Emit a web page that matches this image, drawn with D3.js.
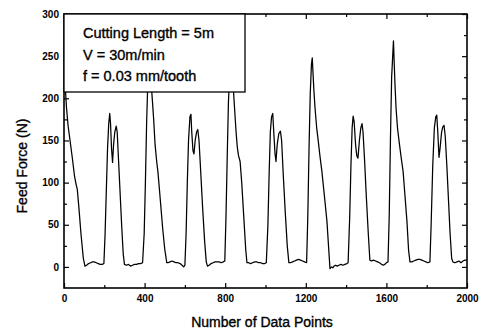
<!DOCTYPE html>
<html>
<head>
<meta charset="utf-8">
<script src="https://cdn.jsdelivr.net/npm/d3@7/dist/d3.min.js"></script>
<style>
  body { margin: 0; background: #fff; }
  svg text { font-family: "Liberation Sans", Arial, sans-serif; fill: #000; }
  .heavy { stroke: #000; stroke-width: 0.35px; }
</style>
</head>
<body>
<svg id="chart" width="483" height="332"></svg>
<script>
// feed force trace (data point index, force in N)
var samplesA = [
  [0,238],[6,215],[12,190],[20,168],[30,150],[42,128],[52,108],[60,98],[66,92],[74,70],[84,40],[96,10],[104,1],
  [112,2],[122,4],[132,5],[142,6],[150,6],[160,5],[170,4],[180,3],[190,3],[198,4],
  [204,40],[210,90],[216,140],[222,170],[227,182],[231,170],[236,140],[241,124],[246,145],[252,160],[259,167],
  [264,160],[270,130],[278,90],[286,50],[294,15],[300,3],[310,2],[320,3],[330,1],[340,2],[350,3],[360,3],
  [370,4],[380,4],[390,5],
  [398,40],[404,100],[410,170],[416,220],[425,245],[435,210],[445,175],[452,145],[460,125],[466,113],[476,85],
  [490,45],[500,21],[510,5],
  [516,5],[526,6],[536,7],[546,6],[556,5],[566,5],[576,4],[586,2],[594,0],[600,2]
];
var samplesB = [
  [606,40],[612,100],[618,150],[625,178],[630,181],[634,160],[640,138],[645,134],[651,150],[658,160],[664,163],
  [670,150],[678,115],[688,70],[698,30],[706,6],[712,1],[720,2],[730,4],[740,5],[750,6],[760,6],[770,6],
  [780,5],[790,6],[798,7],
  [804,60],[810,130],[816,195],[822,228],[830,238],[838,220],[846,190],[854,160],[860,142],[866,132],[874,125],
  [882,100],[892,60],[902,20],[908,5],
  [916,5],[926,4],[936,5],[946,6],[956,6],[966,5],[976,5],[986,4],[996,4],[1004,5],
  [1012,50],[1018,110],[1024,160],[1030,178],[1036,182],[1041,160],[1047,135],[1052,125],[1058,145],[1066,158],
  [1074,161],[1080,150],[1088,110],[1098,65],[1108,25],[1116,5],[1124,5],[1134,6],[1144,7],[1154,8],[1164,9],
  [1174,8],[1184,7],[1194,6],[1204,5]
];
var samplesC = [
  [1210,60],[1216,140],[1222,205],[1228,240],[1232,248],[1240,210],[1246,188],[1254,165],[1262,149],[1270,132],
  [1280,113],[1292,85],[1305,54],[1314,20],[1320,-2],[1328,0],[1334,-1],[1340,1],[1348,2],[1356,1],[1364,2],
  [1374,3],[1384,2],[1394,3],[1404,4],[1410,5],
  [1418,60],[1424,120],[1430,165],[1435,179],[1440,172],[1447,145],[1453,132],[1459,129],[1466,150],[1473,165],
  [1479,170],[1484,160],[1492,125],[1500,85],[1510,40],[1518,8],[1526,7],[1536,8],[1546,7],[1556,6],[1566,5],
  [1576,3],[1584,2],[1592,3],[1600,5],[1608,6]
];
var samplesD = [
  [1614,60],[1620,150],[1626,225],[1635,268],[1642,220],[1648,188],[1655,165],[1663,149],[1672,132],[1683,113],
  [1692,85],[1702,54],[1710,20],[1717,6],
  [1726,6],[1736,7],[1746,8],[1756,9],[1766,9],[1776,8],[1786,7],[1796,6],[1806,5],[1816,6],
  [1822,50],[1830,120],[1838,165],[1845,178],[1850,180],[1855,160],[1861,130],[1866,140],[1874,160],[1880,166],
  [1886,168],[1892,155],[1900,120],[1908,80],[1916,40],[1924,10],[1930,6],[1940,5],[1950,6],[1960,7],[1970,5],
  [1980,7],[1990,8],[2000,8]
];

var xMajor = [0, 400, 800, 1200, 1600, 2000];
var xMinor = [200, 600, 1000, 1400, 1800];
var yMajor = [0, 50, 100, 150, 200, 250, 300];
var yMinor = [25, 75, 125, 175, 225, 275];

var legendLines = ['Cutting Length = 5m', 'V = 30m/min', 'f = 0.03 mm/tooth'];
var xTitle = 'Number of Data Points';
var yTitle = 'Feed Force (N)';

var trace = samplesA.concat(samplesB, samplesC, samplesD);

var margin = { top: 14, right: 16, bottom: 44, left: 64 };
var width = 483 - margin.left - margin.right;
var height = 332 - margin.top - margin.bottom;

var svg = d3.select('#chart');
var g = svg.append('g').attr('transform', 'translate(' + margin.left + ',' + margin.top + ')');

var x = d3.scaleLinear().domain([0, 2000]).range([0, width]);
var y = d3.scaleLinear().domain([-25, 300]).range([height, 0]);

// clip so the trace stays inside the frame
g.append('clipPath').attr('id', 'clip')
  .append('rect').attr('width', width).attr('height', height);

var line = d3.line().x(d => x(d[0])).y(d => y(d[1]));

g.append('path')
  .datum(trace)
  .attr('clip-path', 'url(#clip)')
  .attr('fill', 'none')
  .attr('stroke', '#000')
  .attr('stroke-width', 1.25)
  .attr('stroke-linejoin', 'round')
  .attr('d', line);

function styleAxis(sel) {
  sel.select('.domain').remove();
  sel.selectAll('line').attr('stroke', '#000').attr('stroke-width', 1.2);
  sel.selectAll('text').attr('font-size', 10).attr('font-weight', 'bold');
}

// bottom axis, ticks pointing in
g.append('g').attr('transform', 'translate(0,' + height + ')')
  .call(d3.axisBottom(x).tickValues(xMajor).tickSize(-5).tickPadding(7).tickFormat(d3.format('d')))
  .call(styleAxis);
g.append('g').attr('transform', 'translate(0,' + height + ')')
  .call(d3.axisBottom(x).tickValues(xMinor).tickSize(-3).tickFormat(''))
  .call(styleAxis);
// top mirror
g.append('g')
  .call(d3.axisTop(x).tickValues(xMajor).tickSize(-5).tickFormat(''))
  .call(styleAxis);
g.append('g')
  .call(d3.axisTop(x).tickValues(xMinor).tickSize(-3).tickFormat(''))
  .call(styleAxis);

// left axis
g.append('g')
  .call(d3.axisLeft(y).tickValues(yMajor).tickSize(-5).tickPadding(5).tickFormat(d3.format('d')))
  .call(styleAxis);
g.append('g')
  .call(d3.axisLeft(y).tickValues(yMinor).tickSize(-3).tickFormat(''))
  .call(styleAxis);
// right mirror
g.append('g').attr('transform', 'translate(' + width + ',0)')
  .call(d3.axisRight(y).tickValues(yMajor).tickSize(-5).tickFormat(''))
  .call(styleAxis);
g.append('g').attr('transform', 'translate(' + width + ',0)')
  .call(d3.axisRight(y).tickValues(yMinor).tickSize(-3).tickFormat(''))
  .call(styleAxis);

// frame
g.append('rect')
  .attr('width', width).attr('height', height)
  .attr('fill', 'none').attr('stroke', '#000').attr('stroke-width', 1.6);

// legend box, opaque, sits over the trace
var legend = g.append('g');
legend.append('rect')
  .attr('x', 0).attr('y', 0)
  .attr('width', 181).attr('height', 78)
  .attr('fill', '#fff').attr('stroke', '#000').attr('stroke-width', 1.3);
legend.selectAll('text')
  .data(legendLines)
  .enter().append('text')
  .attr('class', 'heavy')
  .attr('x', 19)
  .attr('y', (d, i) => 24 + i * 21.5)
  .attr('font-size', 14.5)
  .text(d => d);

// axis titles
svg.append('text')
  .attr('class', 'heavy')
  .attr('x', 262).attr('y', 327)
  .attr('text-anchor', 'middle')
  .attr('font-size', 14)
  .text(xTitle);

svg.append('text')
  .attr('class', 'heavy')
  .attr('transform', 'translate(27,166) rotate(-90)')
  .attr('text-anchor', 'middle')
  .attr('font-size', 14)
  .text(yTitle);
</script>
</body>
</html>
